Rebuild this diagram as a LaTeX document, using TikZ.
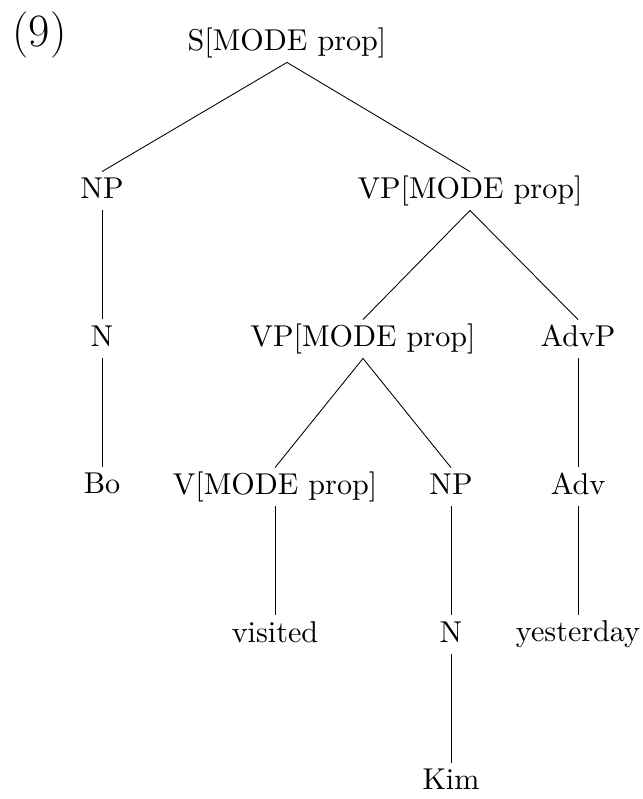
\documentclass[tikz,border=0pt]{standalone}
\usetikzlibrary{positioning}
\tikzset{
cat/.style={text height=7pt, text depth=2pt, inner sep=2pt, font=\fontsize{10.4}{12}\selectfont},
exnum/.style={anchor=base west, inner sep=0pt, font=\fontsize{16}{18}\selectfont},
branch/.style={line width=0.3pt}}

\begin{document}
\begin{tikzpicture}[x=0.345pt, y=-0.345pt]
\useasboundingbox (0,0) rectangle (643,799);
\node (ex) [exnum] at (12,46) {(9)};
\node (s) [cat] at (287,43) {S[MODE prop]};
\node (np) [cat] at (102,191) {NP};
\node (vp) [cat] at (470,191) {VP[MODE prop]};
\node (n) [cat, below of=np, node distance=51pt] {N};
\node (vpb) [cat] at (363,339) {VP[MODE prop]};
\node (advp) [cat] at (578,339) {AdvP};
\node (bo) [cat, below of=n, node distance=51pt] {Bo};
\node (v) [cat] at (275,487) {V[MODE prop]};
\node (npb) [cat] at (451,487) {NP};
\node (adv) [cat, below of=advp, node distance=51pt] {Adv};
\node (visited) [cat, below of=v, node distance=51pt] {visited};
\node (nb) [cat, below of=npb, node distance=51pt] {N};
\node (yesterday) [cat, below of=adv, node distance=51pt] {yesterday};
\node (kim) [cat, below of=nb, node distance=51pt] {Kim};

\draw [branch] (s.south) -- (np.north);
\draw [branch] (s.south) -- (vp.north);
\draw [branch] (np.south) -- (n.north);
\draw [branch] (n.south) -- (bo.north);
\draw [branch] (vp.south) -- (vpb.north);
\draw [branch] (vp.south) -- (advp.north);
\draw [branch] (vpb.south) -- (v.north);
\draw [branch] (vpb.south) -- (npb.north);
\draw [branch] (v.south) -- (visited.north);
\draw [branch] (npb.south) -- (nb.north);
\draw [branch] (nb.south) -- (kim.north);
\draw [branch] (advp.south) -- (adv.north);
\draw [branch] (adv.south) -- (yesterday.north);
\end{tikzpicture}
\end{document}
